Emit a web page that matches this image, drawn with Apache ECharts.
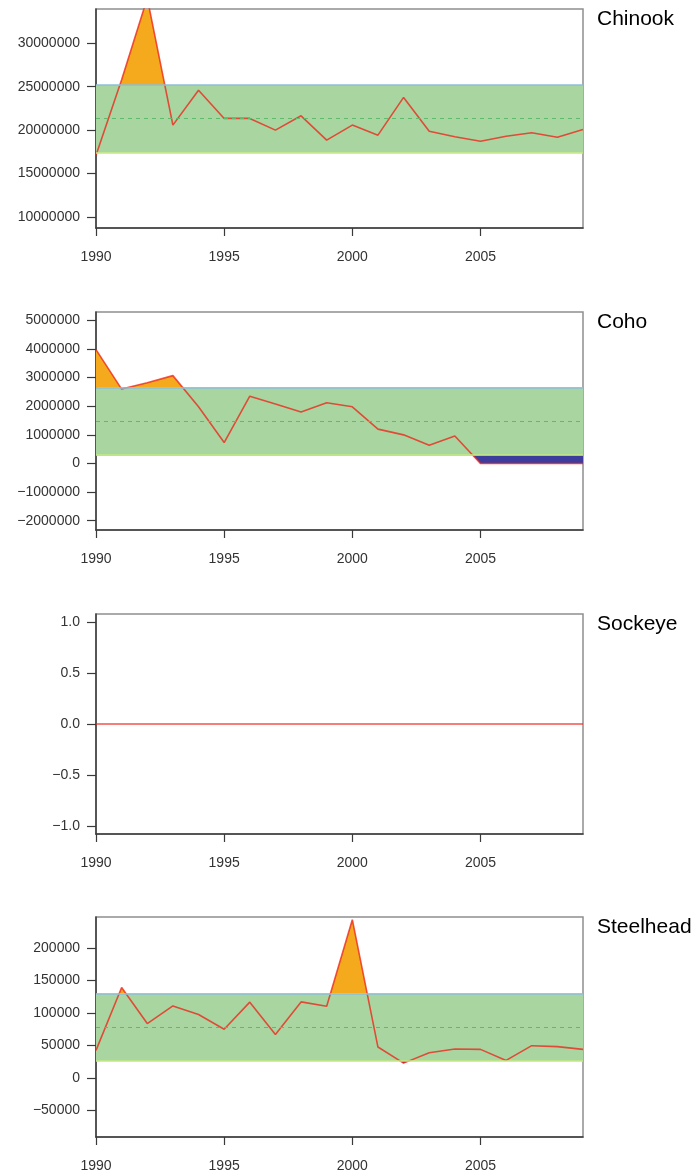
<!DOCTYPE html>
<html>
<head>
<meta charset="utf-8">
<script src="https://cdn.jsdelivr.net/npm/echarts@6/dist/echarts.min.js"></script>
<style>
  html, body { margin: 0; padding: 0; background: #ffffff; }
  #chart { width: 695px; height: 1173px; }
</style>
</head>
<body>
<div id="chart"></div>
<script>
// Annual catch by species, 1990-2009
const years = [1990, 1991, 1992, 1993, 1994, 1995, 1996, 1997, 1998, 1999,
               2000, 2001, 2002, 2003, 2004, 2005, 2006, 2007, 2008, 2009];

const chinook = [17100000, 25800000, 35200000, 20580000, 24600000, 21350000, 21350000, 20000000, 21650000, 18850000,
                 20580000, 19420000, 23770000, 19880000, 19230000, 18730000, 19300000, 19690000, 19190000, 20080000];
const coho = [3980000, 2600000, 2820000, 3070000, 1980000, 730000, 2350000, 2080000, 1800000, 2120000,
              1980000, 1200000, 1000000, 640000, 960000, 0, 0, 0, 0, 0];
const sockeye = [0, 0, 0, 0, 0, 0, 0, 0, 0, 0,
                 0, 0, 0, 0, 0, 0, 0, 0, 0, 0];
const steelhead = [42300, 139300, 83600, 110800, 97500, 74800, 116600, 66600, 117000, 110400,
                   243800, 47400, 22600, 38700, 44300, 43800, 26800, 49500, 48000, 43800];

const speciesNames = ['Chinook', 'Coho', 'Sockeye', 'Steelhead'];

// Reference band per species (null where no band is drawn)
const bandLower = [17390000, 290000, null, 25700];
const bandMean  = [21330000, 1480000, null, 78000];
const bandUpper = [25200000, 2660000, null, 130000];

// Tick labels
const yearTicks = [1990, 1995, 2000, 2005];
const chinookTicks = [10000000, 15000000, 20000000, 25000000, 30000000];
const cohoTicks = [-2000000, -1000000, 0, 1000000, 2000000, 3000000, 4000000, 5000000];
const sockeyeTicks = [-1, -0.5, 0, 0.5, 1];
const steelheadTicks = [-50000, 0, 50000, 100000, 150000, 200000];

const seriesValues = [chinook, coho, sockeye, steelhead];
const valueTicks = [chinookTicks, cohoTicks, sockeyeTicks, steelheadTicks];

// Panel layout: plot-box top, height and y-range
const panels = [
  { top: 9,   height: 219, yMin: 8730000,  yMax: 33950000, decimals: 0 },
  { top: 312, height: 218, yMin: -2326000, yMax: 5294000,  decimals: 0 },
  { top: 614, height: 220, yMin: -1.08,    yMax: 1.08,     decimals: 1 },
  { top: 917, height: 220, yMin: -91300,   yMax: 247900,   decimals: 0 }
];

const FONT = '"Liberation Sans", Arial, Helvetica, sans-serif';
const TEXT = '#333333';
const AXIS = '#3a3a3a';
const BOX = '#8f8f8f';
const GREEN = '#a9d6a0';
const ORANGE = '#f5a91d';
const BLUE = '#3c3d9c';
const LINE = 'rgba(238,40,30,0.8)';
const CLEAR = 'rgba(255,255,255,0)';
const PAGE_H = 1173;

function fmt(v, decimals) {
  const s = decimals ? v.toFixed(decimals) : String(Math.round(v));
  return s.replace('-', '\u2212');
}

const grid = [], xAxis = [], yAxis = [], series = [], title = [];
const fills = [];   // {id, panel, level, above}

panels.forEach((p, i) => {
  const pts = years.map((yr, k) => [yr, seriesValues[i][k]]);

  grid.push({
    left: 96, width: 487, top: p.top, height: p.height,
    show: true, borderColor: BOX, borderWidth: 1.5, backgroundColor: 'transparent'
  });

  xAxis.push({
    type: 'value', gridIndex: i, min: 1990, max: 2009,
    axisLine: { show: true, onZero: false, lineStyle: { color: AXIS, width: 1.5 } },
    axisTick: { show: true, length: 8, customValues: yearTicks, lineStyle: { color: AXIS, width: 1.2 } },
    axisLabel: { customValues: yearTicks, margin: 22, fontSize: 14, color: TEXT, fontFamily: FONT,
                 formatter: v => String(v) },
    splitLine: { show: false }
  });

  yAxis.push({
    type: 'value', gridIndex: i, min: p.yMin, max: p.yMax,
    axisLine: { show: true, onZero: false, lineStyle: { color: AXIS, width: 1.5 } },
    axisTick: { show: true, length: 9, customValues: valueTicks[i], lineStyle: { color: AXIS, width: 1.2 } },
    axisLabel: { customValues: valueTicks[i], margin: 16, fontSize: 14, color: TEXT, fontFamily: FONT,
                 formatter: v => fmt(v, p.decimals) },
    splitLine: { show: false }
  });

  title.push({
    text: speciesNames[i], left: 597, top: p.top, padding: 0,
    textStyle: { fontSize: 21, fontWeight: 'normal', color: '#000000', fontFamily: FONT }
  });

  if (bandUpper[i] !== null) {
    // Band between lower and upper limits, with the mean dashed
    series.push({
      type: 'line', xAxisIndex: i, yAxisIndex: i, data: pts, z: 1, silent: true,
      symbol: 'none', lineStyle: { opacity: 0 },
      markArea: {
        silent: true, label: { show: false },
        itemStyle: { color: GREEN, opacity: 1 },
        data: [[{ yAxis: bandLower[i] }, { yAxis: bandUpper[i] }]]
      },
      markLine: {
        silent: true, symbol: 'none', label: { show: false }, animation: false,
        data: [
          { yAxis: bandUpper[i], lineStyle: { color: '#8cbfd6', width: 1.5, type: 'solid' } },
          { yAxis: bandLower[i], lineStyle: { color: '#c6e882', width: 1.5, type: 'solid' } },
          { yAxis: bandMean[i], lineStyle: { color: '#5fba6c', width: 1, type: [4, 4] } }
        ]
      }
    });

    // Area between the catch line and each limit; coloured only beyond the limit
    [[bandUpper[i], true], [bandLower[i], false]].forEach(([level, above]) => {
      const id = 'fill-' + i + '-' + (above ? 'hi' : 'lo');
      fills.push({ id, panel: i, level, above });
      series.push({
        id, type: 'line', xAxisIndex: i, yAxisIndex: i, data: pts, z: 2, silent: true,
        symbol: 'none', lineStyle: { width: 0, opacity: 0 },
        areaStyle: { origin: level, opacity: 1, color: CLEAR }
      });
    });
  }

  // Catch line
  series.push({
    type: 'line', xAxisIndex: i, yAxisIndex: i, data: pts, z: 3, silent: true,
    symbol: 'none', lineStyle: { color: LINE, width: 1.6 }
  });
});

const chart = echarts.init(document.getElementById('chart'), null, { renderer: 'canvas' });
chart.setOption({
  animation: false,
  backgroundColor: '#ffffff',
  title, grid, xAxis, yAxis, series
});

// Split each fill at its limit with a hard-edged page-space gradient
const fillUpdates = fills.map(f => {
  const py = chart.convertToPixel({ gridIndex: f.panel }, [years[0], f.level])[1];
  const t = Math.min(1, Math.max(0, py / PAGE_H));
  const top = f.above ? ORANGE : CLEAR;
  const bottom = f.above ? CLEAR : BLUE;
  return {
    id: f.id,
    areaStyle: {
      color: new echarts.graphic.LinearGradient(0, 0, 0, PAGE_H, [
        { offset: 0, color: top }, { offset: t, color: top },
        { offset: t, color: bottom }, { offset: 1, color: bottom }
      ], true)
    }
  };
});
chart.setOption({ series: fillUpdates });
</script>
</body>
</html>
